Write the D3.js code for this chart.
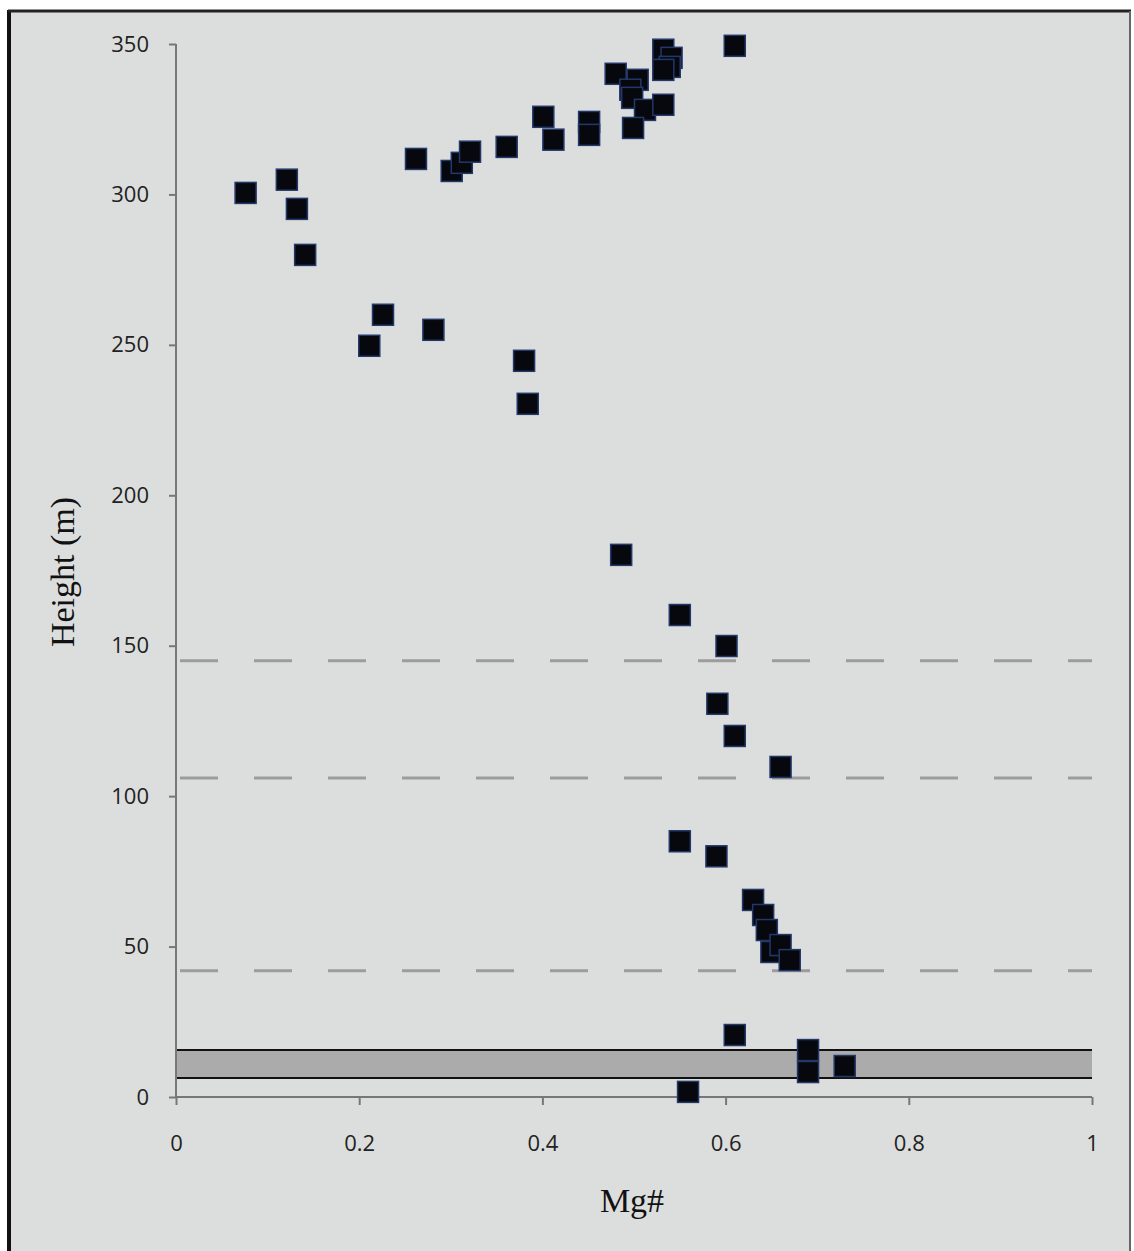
<!DOCTYPE html>
<html>
<head>
<meta charset="utf-8">
<script src="https://cdn.jsdelivr.net/npm/d3@7"></script>
<style>
  body { margin: 0; background: #ffffff; }
  svg { display: block; }
</style>
</head>
<body>
<div id="chart"></div>
<script>
// Mg# values of the samples
var mgNumber = [
    0.076, 0.121, 0.132, 0.141, 0.226, 0.211, 0.281, 0.380, 0.384,
    0.262, 0.301, 0.312, 0.321, 0.361, 0.401, 0.412, 0.451, 0.451,
    0.480, 0.504, 0.496, 0.498, 0.512, 0.499, 0.532, 0.541, 0.539,
    0.532, 0.532, 0.610,
    0.486, 0.550, 0.601, 0.591, 0.610, 0.660, 0.550, 0.590,
    0.630, 0.641, 0.645, 0.650, 0.660, 0.670,
    0.610, 0.690, 0.690, 0.730, 0.559
];
// stratigraphic height (m)
var heightM = [
    300.5, 304.9, 295.2, 279.9, 260, 249.7, 255, 244.7, 230.4,
    311.8, 307.8, 310.5, 314.2, 315.8, 325.8, 318.2, 324.1, 319.8,
    340.1, 338.1, 334.8, 332.1, 328.1, 322.1, 348.1, 345.4, 342.4,
    341.4, 329.8, 349.4,
    180.2, 160.2, 149.9, 130.7, 120, 109.7, 85, 80,
    65.5, 60.5, 55.5, 48.2, 50.5, 45.5,
    20.6, 15.6, 8.3, 10.3, 1.7
];
var xTicks = [0, 0.2, 0.4, 0.6, 0.8, 1];
var yTicks = [0, 50, 100, 150, 200, 250, 300, 350];
var dashedLevels = [145, 106, 42];
var bandLevels = [6.3, 15.6];

var width = 1134, height = 1251;

var svg = d3.select("#chart").append("svg")
    .attr("width", width)
    .attr("height", height);

// page / frame
svg.append("rect")
    .attr("x", 9).attr("y", 11)
    .attr("width", 1121).attr("height", 1250)
    .attr("fill", "#dcdedd")
    .attr("stroke", "none");
svg.append("line").attr("x1", 9).attr("x2", 9).attr("y1", 10).attr("y2", 1251)
    .attr("stroke", "#111").attr("stroke-width", 4);
svg.append("line").attr("x1", 8).attr("x2", 1131).attr("y1", 11).attr("y2", 11)
    .attr("stroke", "#222").attr("stroke-width", 3);
svg.append("line").attr("x1", 1130).attr("x2", 1130).attr("y1", 11).attr("y2", 1251)
    .attr("stroke", "#666").attr("stroke-width", 2);

var x = d3.scaleLinear().domain([0, 1]).range([176, 1092]);
var y = d3.scaleLinear().domain([0, 350]).range([1097, 44]);

// gray band
svg.append("rect")
    .attr("x", x(0))
    .attr("y", y(bandLevels[1]))
    .attr("width", x(1) - x(0))
    .attr("height", y(bandLevels[0]) - y(bandLevels[1]))
    .attr("fill", "#ababab");
svg.selectAll(".band-line")
    .data(bandLevels)
    .enter().append("line")
    .attr("class", "band-line")
    .attr("x1", x(0)).attr("x2", x(1))
    .attr("y1", function (d) { return y(d); })
    .attr("y2", function (d) { return y(d); })
    .attr("stroke", "#111")
    .attr("stroke-width", 2);

// dashed lines
svg.selectAll(".dash-line")
    .data(dashedLevels)
    .enter().append("line")
    .attr("class", "dash-line")
    .attr("x1", x(0)).attr("x2", x(1))
    .attr("y1", function (d) { return y(d); })
    .attr("y2", function (d) { return y(d); })
    .attr("stroke", "#9c9c9c")
    .attr("stroke-width", 3)
    .attr("stroke-dasharray", "38,36")
    .attr("stroke-dashoffset", -4);

// axes
var xAxis = svg.append("g")
    .attr("transform", "translate(0," + y(0) + ")")
    .call(d3.axisBottom(x).tickValues(xTicks).tickSize(8).tickPadding(30)
        .tickFormat(function (d) { return d3.format("")(d); }));
var yAxis = svg.append("g")
    .attr("transform", "translate(" + x(0) + ",0)")
    .call(d3.axisLeft(y).tickValues(yTicks).tickSize(7).tickPadding(20));

[xAxis, yAxis].forEach(function (g) {
    g.select(".domain").attr("stroke", "#777").attr("stroke-width", 2);
    g.selectAll(".tick line").attr("stroke", "#777").attr("stroke-width", 2);
    g.selectAll(".tick text")
        .attr("fill", "#222")
        .style("font-family", "'Open Sans', sans-serif")
        .style("font-size", "22px");
});
xAxis.select(".domain").attr("d", "M" + x(0) + ",0H" + x(1));
yAxis.select(".domain").attr("d", "M0," + y(0) + "V" + y(350));

// axis titles
svg.append("text")
    .attr("x", 632).attr("y", 1212)
    .attr("text-anchor", "middle")
    .style("font-family", "'Liberation Serif', serif")
    .style("font-size", "34px")
    .attr("fill", "#111")
    .text("Mg#");
svg.append("text")
    .attr("transform", "translate(74,572) rotate(-90)")
    .attr("text-anchor", "middle")
    .style("font-family", "'Liberation Serif', serif")
    .style("font-size", "34px")
    .attr("fill", "#111")
    .text("Height (m)");

// points
var points = mgNumber.map(function (m, i) { return {mg: m, h: heightM[i]}; });
var size = 21;
svg.selectAll(".pt")
    .data(points)
    .enter().append("rect")
    .attr("class", "pt")
    .attr("x", function (d) { return x(d.mg) - size / 2; })
    .attr("y", function (d) { return y(d.h) - size / 2; })
    .attr("width", size)
    .attr("height", size)
    .attr("fill", "#07080d")
    .attr("stroke", "#22386a")
    .attr("stroke-width", 1.5);
</script>
</body>
</html>
